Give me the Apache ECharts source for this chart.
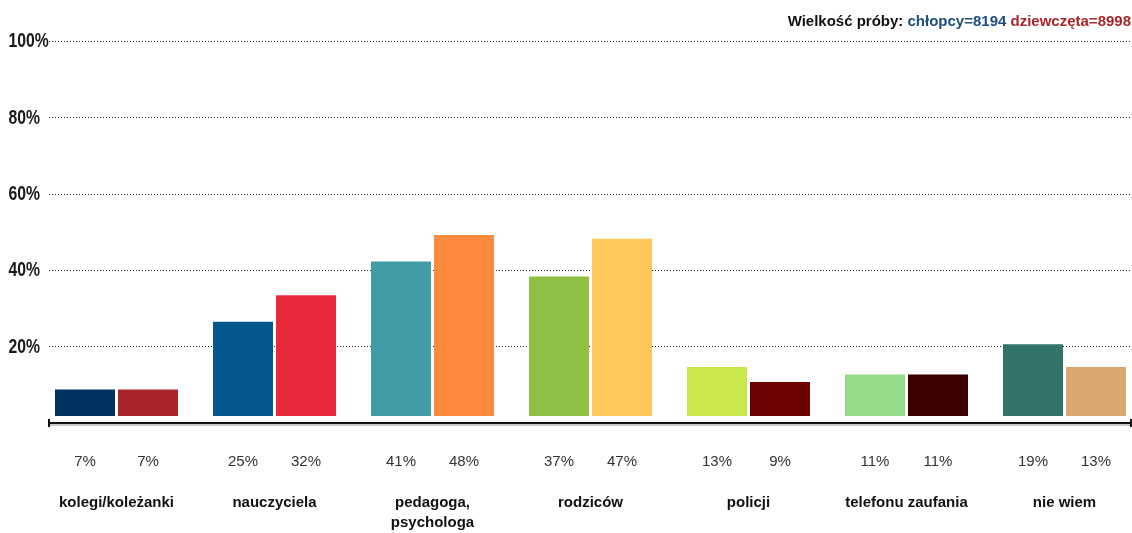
<!DOCTYPE html>
<html>
<head>
<meta charset="utf-8">
<script src="https://cdn.jsdelivr.net/npm/echarts@6/dist/echarts.min.js"></script>
<style>
html,body{margin:0;padding:0;background:#fff;overflow:hidden;width:1132px;height:533px;}
#chart{width:1150px;height:533px;}
</style>
</head>
<body>
<div id="chart"></div>
<script>
var categories = ['kolegi/koleżanki', 'nauczyciela', 'pedagoga,\npsychologa', 'rodziców', 'policji', 'telefonu zaufania', 'nie wiem'];
var boys = [7, 25, 41, 37, 13, 11, 19];
var girls = [7, 32, 48, 47, 9, 11, 13];
var boysColors = ['#003361', '#06578b', '#429ca5', '#8fc043', '#c9e94b', '#98dc8a', '#33746a'];
var girlsColors = ['#a82529', '#e8293a', '#fd8b3d', '#fec95a', '#6f0000', '#3d0000', '#d8a86e'];
var yTicks = [0, 20, 40, 60, 80, 100];

var EXTRA = 18; // chart div is wider than the window; right part is cut off
var chart = echarts.init(document.getElementById('chart'), null, {renderer: 'canvas'});

function mk(vals, cols) {
  return vals.map(function (v, i) { return {value: v, itemStyle: {color: cols[i]}}; });
}

var labelStyle = {
  show: true,
  position: 'bottom',
  distance: 38,
  formatter: '{c}%',
  fontFamily: 'Liberation Sans, Arial, sans-serif',
  fontSize: 15,
  color: '#333'
};

var titleFont = {fontFamily: 'Liberation Sans, Arial, sans-serif', fontSize: 15, fontWeight: 'bold'};

chart.setOption({
  animation: false,
  title: {
    right: 1 + EXTRA,
    top: 14,
    padding: 0,
    text: '{a|Wielkość próby: }{b|chłopcy=8194 }{c|dziewczęta=8998}',
    textStyle: {
      rich: {
        a: Object.assign({color: '#111'}, titleFont),
        b: Object.assign({color: '#1f4e7a'}, titleFont),
        c: Object.assign({color: '#a8262a'}, titleFont)
      }
    }
  },
  grid: [
    {left: 37.5, width: 1106, top: 39, bottom: 114, containLabel: false},
    {left: 49, right: 1 + EXTRA, top: 41, bottom: 110, containLabel: false}
  ],
  xAxis: [
    {
      type: 'category', gridIndex: 0, data: categories,
      axisLine: {show: false}, axisTick: {show: false},
      axisLabel: {
        margin: 77, interval: 0,
        fontFamily: 'Liberation Sans, Arial, sans-serif',
        fontSize: 15, fontWeight: 'bold', color: '#111', lineHeight: 20
      }
    },
    {
      type: 'value', gridIndex: 1, position: 'bottom', min: 0, max: 1, interval: 1,
      axisLine: {show: true, lineStyle: {color: '#111', width: 2, shadowColor: '#c8c8c8', shadowOffsetY: 2, shadowBlur: 0}},
      axisTick: {show: true, length: 4, lineStyle: {color: '#111', width: 2}},
      axisLabel: {show: false}, splitLine: {show: false}
    },
    {
      type: 'value', gridIndex: 1, position: 'bottom', offset: 0, min: 0, max: 1, interval: 1,
      axisLine: {show: false},
      axisTick: {show: true, inside: true, length: 4, lineStyle: {color: '#111', width: 2}},
      axisLabel: {show: false}, splitLine: {show: false}
    }
  ],
  yAxis: [
    {type: 'value', gridIndex: 0, min: 0, max: 100, show: false, splitLine: {show: false}},
    {
      type: 'value', gridIndex: 1, min: yTicks[0], max: yTicks[yTicks.length - 1], interval: 20,
      axisLine: {show: false}, axisTick: {show: false},
      axisLabel: {show: false},
      splitLine: {show: true, lineStyle: {color: '#222', width: 1, type: [1, 2]}}
    }
  ],
  series: [
    {
      type: 'bar', xAxisIndex: 0, yAxisIndex: 0,
      barWidth: 60, barGap: '5%',
      data: mk(boys, boysColors),
      label: labelStyle
    },
    {
      type: 'bar', xAxisIndex: 0, yAxisIndex: 0,
      barWidth: 60, barGap: '5%',
      data: mk(girls, girlsColors),
      label: labelStyle
    }
  ]
});

// Y tick labels in a condensed style (no narrow font installed): real text, horizontally scaled,
// placed at the positions given by the y axis scale.
var yLabelEls = yTicks.filter(function (v) { return v !== 0; }).map(function (v) {
  var py = chart.convertToPixel({yAxisIndex: 1}, v);
  return {
    type: 'text',
    x: 8.5,
    y: py + 0.5,
    scaleX: 0.75,
    silent: true,
    style: {
      text: v + '%',
      fontFamily: 'Liberation Sans, Arial, sans-serif',
      fontSize: 21,
      fontWeight: 'bold',
      fill: '#1a1a1a',
      align: 'left',
      verticalAlign: 'middle'
    }
  };
});
chart.setOption({graphic: yLabelEls});
</script>
</body>
</html>
